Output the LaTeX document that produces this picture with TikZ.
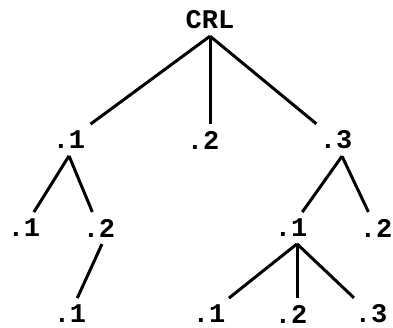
\documentclass[tikz,border=0pt]{standalone}
\usepackage{fontspec}
\setmonofont{Liberation Mono}
\begin{document}
\begin{tikzpicture}[x=1pt,y=1pt,yscale=-1,
  lbl/.style={font=\ttfamily\bfseries\fontsize{27}{27}\selectfont, inner sep=0pt, outer sep=7pt},
  edge/.style={line width=3pt}]
\useasboundingbox (0,0) rectangle (393,328);

% root
\node[lbl] (crl) at (210,20) {CRL};

% first level
\node[lbl] (a) at (69,140) {.1};
\node[lbl] (b) at (203,140) {.2};
\node[lbl] (c) at (336,140) {.3};

% second level
\node[lbl] (aa) at (24,228) {.1};
\node[lbl] (ab) at (99,228) {.2};
\node[lbl] (ca) at (291,228) {.1};
\node[lbl] (cb) at (376,228) {.2};

% third level
\node[lbl] (aba) at (70,314) {.1};
\node[lbl] (caa) at (209,314) {.1};
\node[lbl] (cab) at (291,314) {.2};
\node[lbl] (cac) at (371,314) {.3};

% branches
\draw[edge] (crl.south) -- (a);
\draw[edge] (crl.south) -- (crl.south |- b.north);
\draw[edge] (crl.south) -- (c);
\draw[edge] (a.south) -- (aa);
\draw[edge] (a.south) -- (ab);
\draw[edge] ([xshift=3pt]ab.south) -- (aba);
\draw[edge] ([xshift=6pt]c.south) -- (ca);
\draw[edge] ([xshift=6pt]c.south) -- (cb);
\draw[edge] ([xshift=6pt]ca.south) -- (caa);
\draw[edge] ([xshift=6pt]ca.south) -- ([xshift=6pt]cab.north);
\draw[edge] ([xshift=6pt]ca.south) -- (cac);

\end{tikzpicture}
\end{document}
